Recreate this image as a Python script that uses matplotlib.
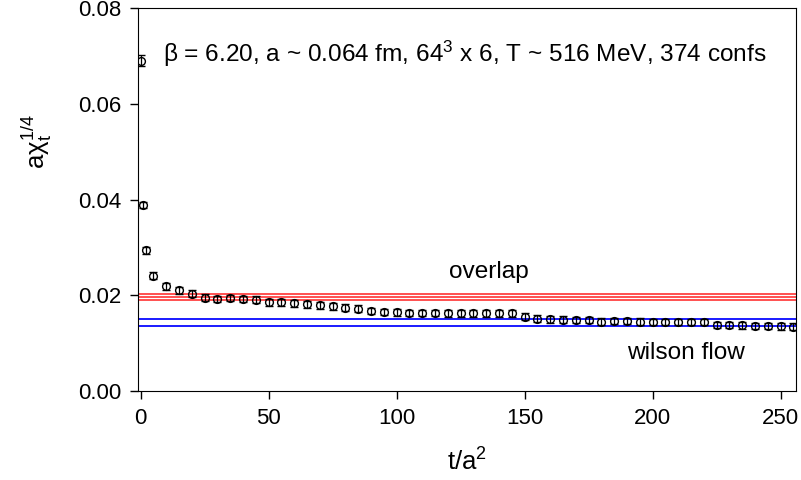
import matplotlib
matplotlib.use("Agg")
import matplotlib.pyplot as plt

plt.rcParams["font.family"] = ["Liberation Sans", "DejaVu Sans"]
plt.rcParams["mathtext.fontset"] = "custom"
plt.rcParams["mathtext.rm"] = "Liberation Sans"
plt.rcParams["mathtext.it"] = "Liberation Sans"
plt.rcParams["mathtext.default"] = "regular"

# flow time t/a^2 and a*chi_t^(1/4)
t = [0, 1, 2] + list(range(5, 256, 5))
chi = [0.0690, 0.0389, 0.0294, 0.0241, 0.0219, 0.0210, 0.0203, 0.0195, 0.0192,
       0.0194, 0.0192, 0.0191, 0.0185, 0.0185, 0.0183, 0.0181, 0.0179, 0.0177,
       0.0174, 0.0172, 0.0167, 0.0165, 0.0164, 0.0163, 0.0163, 0.0163, 0.0162,
       0.0162, 0.0162, 0.0162, 0.0162, 0.0162, 0.0155, 0.0151, 0.0150, 0.0149,
       0.0148, 0.0148, 0.0145, 0.0146, 0.0146, 0.0145, 0.0144, 0.0144, 0.0144,
       0.0144, 0.0144, 0.0138, 0.0138, 0.0137, 0.0136, 0.0136, 0.0135, 0.0134]
err = [0.0012, 0.0006] + [0.0007] * (len(t) - 2)

# reference bands
overlap = [0.0203, 0.0196, 0.0190]
wilson = [0.0151, 0.0136]

fig = plt.figure(figsize=(8.01, 4.80), dpi=100)
ax = fig.add_axes([138 / 801, 89 / 480, 658 / 801, 383 / 480])

for v in overlap:
    ax.axhline(v, color="#ff2020", lw=1.1, zorder=1)
for v in wilson:
    ax.axhline(v, color="#1a1aff", lw=1.4, zorder=1)

ax.errorbar(t, chi, yerr=err, fmt="o", mfc="none", mec="black", ecolor="black",
            ms=5.6, mew=1.0, elinewidth=0.9, capsize=2.8, capthick=0.9, zorder=3)

ax.set_xlim(-1, 256)
ax.set_ylim(0, 0.08)
ax.set_xticks([0, 50, 100, 150, 200, 250])
ax.set_yticks([0.0, 0.02, 0.04, 0.06, 0.08])
ax.set_yticklabels(["0.00", "0.02", "0.04", "0.06", "0.08"])
ax.tick_params(direction="out", length=6, width=1, labelsize=16, pad=6,
               right=False, top=False)

ax.text(0.038, 0.88, r"$\beta$ = 6.20, a ~ 0.064 fm, 64$^3$ x 6, T ~ 516 MeV, 374 confs",
        transform=ax.transAxes, ha="left", va="center", fontsize=17.6)
ax.text(136, 0.0248, "overlap", ha="center", va="center", fontsize=17.6)
ax.text(213, 0.0079, "wilson flow", ha="center", va="center", fontsize=17.6)

fig.text(467 / 801, 1 - 462 / 480, r"t/a$^2$", ha="center", va="center", fontsize=18.5)
fig.text(37 / 801, 1 - 142 / 480, r"a$\chi_t^{1/4}$", ha="center", va="center",
         rotation=90, fontsize=18.5)

fig.savefig("out.png", dpi=100)
